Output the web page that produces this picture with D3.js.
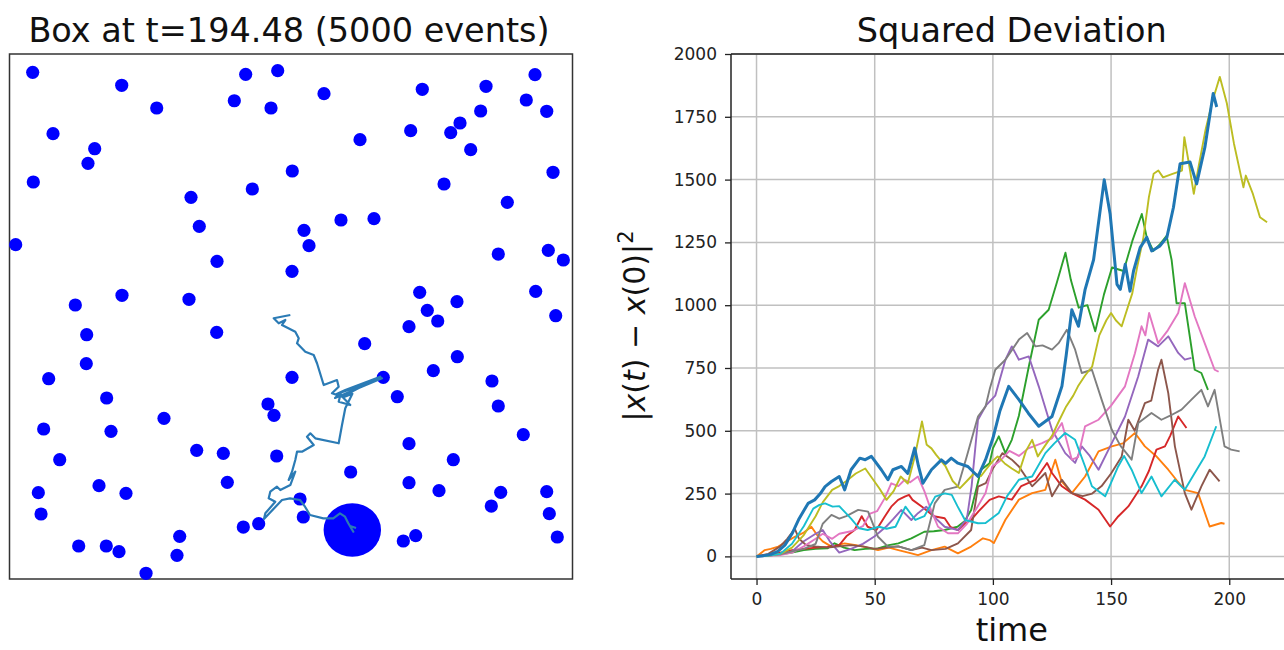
<!DOCTYPE html>
<html>
<head>
<meta charset="utf-8">
<script src="https://cdn.jsdelivr.net/npm/d3@7/dist/d3.min.js"></script>
<style>
  body { margin: 0; background: #fff; }
  svg { display: block; font-family: "DejaVu Sans", sans-serif; }
  .grid line { stroke: #c0c0c0; stroke-width: 1.5; }
  .tick text { fill: #222; }
</style>
</head>
<body>
<div id="chart"></div>
<script>
// ---- box snapshot (box units 0..100) ----
var boxTitle = "Box at t=194.48 (5000 events)";
var particles = [
  [4.12,96.51],[19.93,94.04],[26.15,89.71],[41.95,96.13],[47.64,96.82],[39.93,91.10],[46.45,89.71],
  [7.73,84.82],[15.13,81.96],[13.94,79.18],[4.23,75.62],[50.23,77.71],[43.13,74.29],[32.24,72.70],
  [33.71,67.18],[52.31,66.42],[1.10,63.68],[36.86,60.51],[50.18,58.61],[11.69,52.19],[19.98,54.04],
  [31.88,53.28],[55.86,92.44],[73.32,93.28],[84.64,93.85],[93.34,96.06],[91.79,91.24],[95.42,89.09],
  [83.69,89.14],[80.02,86.86],[78.37,85.01],[71.26,85.39],[62.26,83.68],[81.92,81.77],[96.54,77.47],
  [77.18,75.24],[88.42,71.75],[58.88,68.38],[64.74,68.63],[53.20,63.49],[86.82,61.90],[95.70,62.61],
  [98.37,60.76],[72.86,54.61],[79.48,52.82],[93.46,54.80],[74.21,51.18],[76.06,49.14],[97.02,50.15],
  [13.71,46.53],[36.80,46.99],[13.64,41.01],[6.96,38.15],[50.18,38.42],[17.26,34.48],[45.91,33.33],
  [46.98,31.18],[27.44,30.61],[6.07,28.57],[18.03,28.13],[33.25,24.51],[37.98,23.94],[47.46,23.43],
  [8.92,22.72],[38.69,18.42],[15.90,17.77],[5.12,16.44],[20.69,16.32],[51.60,15.24],[5.60,12.38],
  [52.18,11.81],[30.23,8.13],[41.53,9.90],[44.26,10.53],[12.29,6.29],[17.19,6.29],[19.45,5.20],
  [29.75,4.51],[24.25,1.09],[70.96,48.06],[63.09,44.82],[79.54,42.34],[75.28,39.68],[85.70,37.71],
  [66.39,38.42],[68.88,34.72],[86.82,32.95],[91.26,27.49],[70.96,25.77],[78.83,22.72],[60.60,20.38],
  [70.96,18.34],[76.29,16.82],[87.25,16.51],[95.42,16.63],[85.58,13.90],[95.88,12.44],[97.30,8.00],
  [72.15,8.25],[69.95,7.24]
];
var bigParticle = [60.89, 9.33];
var bigRadius = 5.1;
var trajectory = [
  [49.88,50.29],[46.93,49.66],[47.82,48.70],[48.99,49.33],[48.40,48.38],[50.76,47.10],[51.37,45.85],
  [51.07,44.90],[52.54,43.30],[54.03,42.67],[54.62,41.09],[55.81,36.95],[58.17,37.90],[58.47,36.63],
  [57.28,35.37],[59.06,34.72],[65.86,38.53],[59.64,36.00],[58.0,35.2],[66.16,38.23],[57.82,34.48],
  [58.9,35.6],[58.47,33.77],[60.53,33.14],[59.2,34.6],[60.9,35.3],[59.64,32.51],[59.06,29.33],
  [58.47,25.85],[54.32,26.80],[53.43,27.75],[52.84,27.10],[54.03,25.52],[51.95,24.25],[51.07,24.25],
  [50.76,22.67],[50.18,20.44],[49.59,18.86],[50.76,20.44],[49.88,17.90],[48.10,16.95],[47.51,17.58],
  [46.32,16.63],[46.04,15.37],[47.21,14.72],[45.44,12.51],[45.20,11.43],[48.40,15.05],[49.82,15.37],
  [51.60,15.05],[52.49,13.77],[53.37,12.19],[55.74,11.56],[57.51,11.56],[58.70,12.51],[59.59,11.87],
  [60.18,10.61],[61.07,9.01],[60.48,10.10],[61.55,9.71]
];

// ---- squared deviation runs: [time, |x(t)-x(0)|^2] ----
var msdBlue = [[0,0],[3,3],[6,8],[9,20],[12,45],[15,90],[18,150],[21.8,211],[24.6,225],[27,250],[29,278],[31.7,298],[35,318],[37.3,265],[40,345],[43.7,391],[46,385],[48.6,398],[52.8,345],[55.6,305],[57.7,345],[61.3,358],[64,330],[66.9,431],[68.5,360],[70.4,291],[74,345],[78.2,384],[80,370],[82.4,391],[85.2,371],[89.4,358],[93.7,318],[96.9,385],[100,470],[103,580],[106.7,677],[111,624],[115,570],[119.4,518],[125,557],[129.2,677],[131,800],[133.4,982],[136.2,916],[139,1062],[142.6,1181],[145,1350],[147.1,1499],[149.6,1363],[152.5,1083],[153.9,1063],[156,1163],[158,1056],[159.5,1136],[162.3,1229],[165.1,1270],[167.2,1216],[170.7,1236],[173.6,1270],[176.4,1390],[179.2,1563],[183.4,1570],[186.2,1483],[189.7,1629],[193.2,1843],[194.7,1789]];
var msdOrange = [[0,0],[3.5,25],[6,30],[9.2,39],[12,55],[16.2,78],[20,95],[23.2,118],[26,80],[28,60],[31.7,39],[37.3,52],[42,45],[47,35],[51.4,25],[56,35],[60,25],[65.5,12],[68.3,5],[74,25],[79.6,39],[85.2,12],[90.8,39],[95.8,72],[98.6,65],[100.4,53],[105.3,146],[111,226],[116.6,252],[122.2,265],[126.4,385],[129,300],[133.4,252],[139,318],[144.7,418],[150.3,438],[155,450],[160.1,491],[164.3,438],[169,400],[174.2,345],[178,300],[181.2,265],[186.8,252],[191.7,119],[196.6,133],[198,130]];
var msdGreen = [[0,0],[5,3],[10,8],[15,15],[20,25],[25,30],[30,32],[33,52],[37,35],[41.5,25],[46,30],[51.4,32],[56,45],[60,52],[65.5,72],[71,98],[75,100],[79.6,105],[85,118],[88,140],[90.8,185],[95,345],[98.6,371],[100,430],[102.5,478],[105.3,411],[108,464],[111,560],[115.2,756],[119.4,942],[123.6,982],[127,1088],[130.7,1209],[133,1100],[136.3,990],[140,1000],[143.3,896],[147,1043],[150.4,1150],[155.3,1136],[159,1256],[163,1363],[165.1,1270],[167.9,1216],[170.7,1243],[173.5,1276],[175.6,1181],[177.7,1008],[181.2,1008],[185.4,743],[188.2,730],[191,663]];
var msdRed = [[0,0],[5,5],[10,15],[15,25],[20,30],[25,35],[30,38],[35,45],[38,80],[41.5,105],[44.5,160],[47,118],[50.7,105],[54.2,158],[57,198],[59.9,225],[62.7,238],[64.5,245],[66,225],[70,198],[75,160],[79.6,152],[82,118],[85.2,105],[88,130],[90.8,145],[94,180],[98.6,225],[102.5,239],[108,226],[112,280],[118,305],[122.9,372],[125,332],[129.2,279],[133.4,252],[139,226],[144.7,186],[149.6,119],[153,159],[157.3,199],[162.9,279],[166,340],[169.2,425],[172.8,438],[175,480],[178.4,557],[181.9,511]];
var msdPurple = [[0,0],[5,3],[10,8],[15,20],[20,60],[25,90],[28,105],[31,60],[35,15],[40,30],[45,50],[50,80],[55,120],[58,150],[61.3,185],[65.5,145],[68.3,172],[71.8,198],[76,150],[79.6,118],[85.2,105],[89,150],[91,280],[93.7,544],[97,600],[101,640],[105.3,783],[108,836],[111,783],[115.2,796],[119.4,677],[125,504],[130.6,411],[134.8,372],[137.6,438],[141,400],[144.7,345],[150.3,451],[155.9,557],[161.5,717],[165.7,863],[169.9,836],[174.2,876],[178.4,810],[181.2,783],[184,790]];
var msdBrown = [[0,0],[5,10],[10,40],[13,70],[16.2,110],[18,70],[21,45],[25,40],[30,35],[35,40],[40,45],[45,40],[50,30],[55,35],[60,40],[65.5,25],[70,35],[74,25],[80,30],[85.2,52],[90.8,105],[93.7,278],[97,292],[100,350],[104,411],[108,385],[111,358],[116.6,279],[122.2,332],[125,239],[129.2,305],[133.4,252],[138,240],[142,250],[146,280],[150,330],[154.5,398],[157.3,544],[160,500],[164.3,610],[167,620],[169.9,743],[171.3,783],[174.2,650],[177,438],[181.2,252],[184,186],[188.2,279],[191.7,345],[195.9,299]];
var msdPink = [[0,0],[5,2],[10,5],[15,15],[20,40],[25,70],[28,90],[32,70],[35,90],[40,100],[45,120],[48,170],[51,180],[54.2,231],[57,291],[60,280],[62.7,305],[65,295],[68.3,318],[71,260],[74,180],[76.8,118],[81,92],[85.2,92],[89,130],[93,190],[96.9,252],[99.7,358],[103,380],[107,420],[111,400],[115,430],[120.8,451],[125,470],[129.2,531],[133.4,385],[136,395],[139,518],[144.7,544],[150,600],[155.9,677],[160.1,809],[162.9,916],[164.5,880],[166.1,969],[169.9,849],[174,900],[178.4,969],[181.2,1088],[185.4,955],[189.6,849],[193.8,743],[195.5,735]];
var msdGray = [[0,0],[5,3],[10,8],[15,20],[20,30],[25,50],[28,130],[31.7,165],[35,150],[38,160],[43,185],[47.2,178],[51.4,78],[55.6,39],[60,40],[65.5,25],[71,45],[75.4,211],[79.6,265],[85.2,278],[89,400],[93.7,557],[96.9,597],[98.6,664],[101,743],[105.3,783],[111,863],[114.5,889],[118,836],[121,840],[125,823],[127.8,849],[131.3,902],[134.8,823],[137.6,730],[141.9,743],[146,624],[150.3,504],[154,440],[158.7,385],[161.5,531],[167.1,571],[171.3,544],[175,560],[179.8,584],[184,624],[188.2,663],[191,597],[193.8,663],[198,438],[200.8,425],[204.4,418]];
var msdOlive = [[0,0],[5,3],[10,10],[15,35],[20,85],[25,160],[28,215],[32,265],[35,280],[38,300],[42,330],[46,350],[49,310],[52,270],[55,225],[58,260],[61,318],[64,290],[67,400],[70,537],[72,444],[74,430],[76,404],[80,358],[83,300],[86,271],[89,300],[92,330],[95,320],[97,345],[100,380],[102,398],[105,370],[108,350],[111,332],[114,420],[116.6,464],[119,398],[122,440],[125,480],[128,540],[131,597],[134,640],[136,677],[139,720],[142,756],[145,880],[148,940],[150,969],[152,940],[154.5,916],[157,990],[159,1048],[161,1150],[163.7,1270],[166,1430],[168,1523],[170,1536],[172,1509],[176,1523],[180,1536],[181,1669],[183,1560],[185,1443],[187,1550],[190,1700],[193,1816],[196,1909],[199,1803],[202,1643],[206,1469],[207,1516],[210,1443],[213,1350],[216,1330]];
var msdCyan = [[0,0],[5,3],[10,10],[15,50],[20,120],[24,190],[26.6,205],[29,211],[32.2,198],[35,200],[37.8,172],[40,150],[43.4,112],[47,105],[51.8,118],[55,110],[58.8,118],[63,198],[67.2,145],[71,160],[75.6,238],[79.6,251],[82.6,245],[85,200],[88.2,145],[93.7,132],[96.9,133],[102.5,173],[106,240],[111,305],[116.6,318],[122.2,411],[126,450],[130.6,491],[134.8,464],[139,358],[141.9,279],[147.5,239],[153,358],[155.5,400],[158.7,345],[162.9,252],[167.1,318],[171.3,239],[176.9,305],[181.2,265],[185.4,332],[189.6,398],[194.5,518]];

var thinRuns = [msdOrange, msdGreen, msdRed, msdPurple, msdBrown, msdPink, msdGray, msdOlive, msdCyan];
var thinColors = ["#ff7f0e","#2ca02c","#d62728","#9467bd","#8c564b","#e377c2","#7f7f7f","#bcbd22","#17becf"];
var xTicks = [0, 50, 100, 150, 200];
var yTicks = [0, 250, 500, 750, 1000, 1250, 1500, 1750, 2000];
var rightTitle = "Squared Deviation";
var xLabel = "time";

var W = 1284, H = 650;
var svg = d3.select("#chart").append("svg").attr("width", W).attr("height", H);
svg.append("rect").attr("width", W).attr("height", H).attr("fill", "#fff");

// ---------- left panel ----------
var bx = d3.scaleLinear().domain([0, 100]).range([9.5, 572.5]);
var by = d3.scaleLinear().domain([0, 100]).range([579, 54]);
var left = svg.append("g");

left.append("rect")
  .attr("x", bx(0)).attr("y", by(100))
  .attr("width", bx(100) - bx(0)).attr("height", by(0) - by(100))
  .attr("fill", "none").attr("stroke", "#333").attr("stroke-width", 1.5);

left.selectAll(".p").data(particles).enter().append("circle")
  .attr("class", "p")
  .attr("cx", function(d) { return bx(d[0]); })
  .attr("cy", function(d) { return by(d[1]); })
  .attr("r", 6.6)
  .attr("fill", "#0000ff");

left.append("ellipse")
  .attr("cx", bx(bigParticle[0])).attr("cy", by(bigParticle[1]))
  .attr("rx", bx(bigRadius) - bx(0)).attr("ry", by(0) - by(bigRadius))
  .attr("fill", "#0000ff");

left.append("path")
  .datum(trajectory)
  .attr("d", d3.line().x(function(d) { return bx(d[0]); }).y(function(d) { return by(d[1]); }))
  .attr("fill", "none").attr("stroke", "#2b7bb5").attr("stroke-width", 2.2)
  .attr("stroke-linejoin", "round");

left.append("text")
  .attr("x", (bx(0) + bx(100)) / 2 - 2).attr("y", 42)
  .attr("text-anchor", "middle").attr("font-size", 33.5).attr("fill", "#111")
  .text(boxTitle);

// ---------- right panel ----------
var x = d3.scaleLinear().domain([-10.8, 226.8]).range([731, 1292.6]);
var y = d3.scaleLinear().domain([-90, 2000]).range([579, 54]);
var right = svg.append("g");

svg.append("clipPath").attr("id", "plotclip").append("rect")
  .attr("x", x.range()[0]).attr("y", y.range()[1])
  .attr("width", x.range()[1] - x.range()[0]).attr("height", y.range()[0] - y.range()[1]);

right.append("g").attr("class", "grid")
  .selectAll("line").data(xTicks).enter().append("line")
  .attr("x1", function(d) { return x(d); }).attr("x2", function(d) { return x(d); })
  .attr("y1", y.range()[0]).attr("y2", y.range()[1]);
right.append("g").attr("class", "grid")
  .selectAll("line").data(yTicks).enter().append("line")
  .attr("y1", function(d) { return y(d); }).attr("y2", function(d) { return y(d); })
  .attr("x1", x.range()[0]).attr("x2", x.range()[1]);

var line = d3.line().x(function(d) { return x(d[0]); }).y(function(d) { return y(d[1]); });
var lines = right.append("g").attr("clip-path", "url(#plotclip)");

lines.selectAll(".run").data(thinRuns).enter().append("path")
  .attr("class", "run")
  .attr("d", line)
  .attr("fill", "none")
  .attr("stroke", function(d, i) { return thinColors[i]; })
  .attr("stroke-width", 1.9)
  .attr("stroke-linejoin", "round");

lines.append("path").datum(msdBlue)
  .attr("d", line)
  .attr("fill", "none").attr("stroke", "#1f77b4").attr("stroke-width", 3)
  .attr("stroke-linejoin", "round");

// axes
var yAxis = right.append("g").attr("transform", "translate(" + x.range()[0] + ",0)")
  .call(d3.axisLeft(y).tickValues(yTicks).tickFormat(d3.format("d")).tickSize(6).tickPadding(8));
var xAxis = right.append("g").attr("transform", "translate(0," + y.range()[0] + ")")
  .call(d3.axisBottom(x).tickValues(xTicks).tickFormat(d3.format("d")).tickSize(6).tickPadding(8));
[yAxis, xAxis].forEach(function(a) {
  a.select(".domain").remove();
  a.selectAll(".tick line").attr("stroke", "#222").attr("stroke-width", 1.3);
  a.selectAll(".tick text").attr("font-size", 17).attr("font-family", "DejaVu Sans");
});

// spines (left, bottom, top; right one lies past the window)
[[x.range()[0], y.range()[0], x.range()[0], y.range()[1]],
 [x.range()[0], y.range()[0], x.range()[1], y.range()[0]],
 [x.range()[0], y.range()[1], x.range()[1], y.range()[1]]].forEach(function(s) {
  right.append("line")
    .attr("x1", s[0]).attr("y1", s[1]).attr("x2", s[2]).attr("y2", s[3])
    .attr("stroke", "#222").attr("stroke-width", 1.5);
});

right.append("text")
  .attr("x", (x.range()[0] + x.range()[1]) / 2).attr("y", 42)
  .attr("text-anchor", "middle").attr("font-size", 33.5).attr("fill", "#111")
  .text(rightTitle);

right.append("text")
  .attr("x", (x.range()[0] + x.range()[1]) / 2).attr("y", 641)
  .attr("text-anchor", "middle").attr("font-size", 32).attr("fill", "#111")
  .text(xLabel);

// y label in math style: |x(t) − x(0)|²
var yl = right.append("text")
  .attr("transform", "translate(645,326) rotate(-90)")
  .attr("text-anchor", "middle").attr("font-size", 30).attr("fill", "#111");
yl.append("tspan").text("|");
yl.append("tspan").attr("font-style", "italic").text("x");
yl.append("tspan").text("(");
yl.append("tspan").attr("font-style", "italic").text("t");
yl.append("tspan").text(") \u2212 ");
yl.append("tspan").attr("font-style", "italic").text("x");
yl.append("tspan").text("(0)|");
yl.append("tspan").attr("font-size", 21).attr("dy", -12).text("2");
</script>
</body>
</html>
